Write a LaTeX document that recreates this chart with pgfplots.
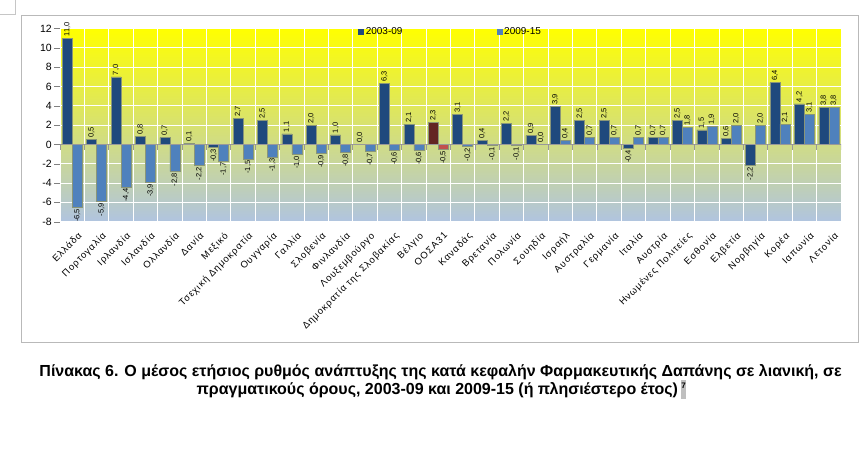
\documentclass[border=0pt]{standalone}
\usepackage{pgfplots}
\pgfplotsset{compat=1.18}
\usepackage{fontspec}
\setmainfont{Liberation Sans}
\newfontfamily\capfont{Liberation Sans}
\newfontfamily\tickfont[LetterSpace=10]{Liberation Sans}
\definecolor{dblue}{HTML}{1F497D}
\definecolor{lblue}{HTML}{4F81BD}
\definecolor{dred}{HTML}{632523}
\definecolor{lred}{HTML}{C0504D}
\definecolor{bgtop}{HTML}{FFFF00}
\definecolor{bgbot}{HTML}{B0C4E0}
\definecolor{baredge}{HTML}{8A9678}

\pgfplotstableread{
x a b
0 11.0 -6.5
1 0.5 -5.9
2 7.0 -4.4
3 0.8 -3.9
4 0.7 -2.8
5 0.1 -2.2
6 -0.3 -1.7
7 2.7 -1.5
8 2.5 -1.3
9 1.1 -1.0
10 2.0 -0.9
11 1.0 -0.8
12 0.0 -0.7
13 6.3 -0.6
14 2.1 -0.6
16 3.1 -0.2
17 0.4 -0.1
18 2.2 -0.1
19 0.9 0.0
20 3.9 0.4
21 2.5 0.7
22 2.5 0.7
23 -0.4 0.7
24 0.7 0.7
25 2.5 1.8
26 1.5 1.9
27 0.6 2.0
28 -2.2 2.0
29 6.4 2.1
30 4.2 3.1
31 3.8 3.8
}\countries

\pgfplotstableread{
x a b
15 2.3 -0.5
}\oecd

\begin{document}
\begin{tikzpicture}[x=1pt,y=1pt]
\useasboundingbox (0,0) rectangle (861,455);
\draw[gray!45] (0,441) -- (15,441) -- (15,455);
\draw[gray!55] (21,113) rectangle (858,440);
\begin{axis}[
  at={(60pt,233.3pt)}, anchor=south west,
  scale only axis, width=781pt, height=193.2pt,
  xmin=-0.5, xmax=31.5, ymin=-8, ymax=12,
  ytick={-8,-6,...,12},
  xtick={0,...,31},
  minor xtick={-0.5,0.5,...,31.5},
  xticklabels={Ελλάδα,Πορτογαλία,Ιρλανδία,Ισλανδία,Ολλανδία,Δανία,Μεξικό,Τσεχική Δημοκρατία,Ουγγαρία,Γαλλία,Σλοβενία,Φινλανδία,Λουξεμβούργο,Δημοκρατία της Σλοβακίας,Βέλγιο,ΟΟΣΑ31,Καναδάς,Βρετανία,Πολωνία,Σουηδία,Ισραήλ,Αυστραλία,Γερμανία,Ιταλία,Αυστρία,Ηνωμένες Πολιτείες,Εσθονία,Ελβετία,Νορβηγία,Κορέα,Ιαπωνία,Λετονία},
  ymajorgrids, xminorgrids,
  grid style={white, line width=0.9pt},
  axis line style={draw=none},
  every x tick/.style={draw=none},
  every minor x tick/.style={draw=none},
  every major y tick/.style={gray},
  tick align=outside, major tick length=6pt,
  ytick pos=left,
  axis background/.style={shade, top color=bgtop, bottom color=bgbot},
  /pgf/number format/assume math mode=true,
  yticklabel style={font=\fontsize{10.5}{12}\selectfont, inner sep=2pt},
  xticklabel style={rotate=45, anchor=north east, font=\tickfont\fontsize{9.5}{11}\selectfont, inner sep=1pt, yshift=-5pt, xshift=2pt},
  ybar, bar width=10pt,
  legend style={draw=none, fill=none, at={(0.5,1)}, anchor=center, yshift=-3.5pt,
    font=\fontsize{10}{12}\selectfont,
    /tikz/every even column/.append style={column sep=92pt}},
  legend columns=2,
  nodes near coords={\pgfmathprintnumber[fixed,fixed zerofill,precision=1,use comma]{\pgfplotspointmeta}},
  visualization depends on={rawy \as \rawy},
  every node near coord/.append style={rotate=90, font=\fontsize{7.5}{8}\selectfont, inner sep=1.5pt,
     anchor=\ifdim\rawy pt<0pt east\else west\fi},
]
\addplot[fill=dblue, draw=baredge, line width=0.5pt, bar shift=-5pt,
  legend image code/.code={\fill[dblue] (0pt,-2.6pt) rectangle (5.2pt,2.6pt);}]
  table[x=x,y=a]{\countries};
\addlegendentry{2003-09}
\addplot[fill=lblue, draw=baredge, line width=0.5pt, bar shift=5pt,
  legend image code/.code={\fill[lblue] (0pt,-2.6pt) rectangle (5.2pt,2.6pt);}]
  table[x=x,y=b]{\countries};
\addlegendentry{2009-15}
\addplot[fill=dred, draw=baredge, line width=0.5pt, bar shift=-5pt, forget plot]
  table[x=x,y=a]{\oecd};
\addplot[fill=lred, draw=baredge, line width=0.5pt, bar shift=5pt, forget plot]
  table[x=x,y=b]{\oecd};
\draw[gray!80, line width=0.8pt] (axis cs:-0.5,0) -- (axis cs:31.5,0);
\pgfplotsinvokeforeach{-0.5,0.5,...,31.5}{
  \draw[gray!80, line width=0.8pt] (axis cs:#1,0) -- ([yshift=-6pt]axis cs:#1,0);
}
\end{axis}
\node[font=\capfont\bfseries\fontsize{16}{18}\selectfont, anchor=base] at (440.5,79)
  {Πίνακας 6. Ο μέσος ετήσιος ρυθμός ανάπτυξης της κατά κεφαλήν Φαρμακευτικής Δαπάνης σε λιανική, σε};
\node[font=\capfont\bfseries\fontsize{16}{18}\selectfont, anchor=base] at (441.5,61)
  {πραγματικούς όρους, 2003-09 και 2009-15 (ή πλησιέστερο έτος)\,{\setlength{\fboxsep}{0.6pt}\colorbox{black!25}{\rule[-4pt]{0pt}{17pt}\raisebox{6pt}{\fontsize{8}{9}\selectfont 7}}}};
\end{tikzpicture}
\end{document}
